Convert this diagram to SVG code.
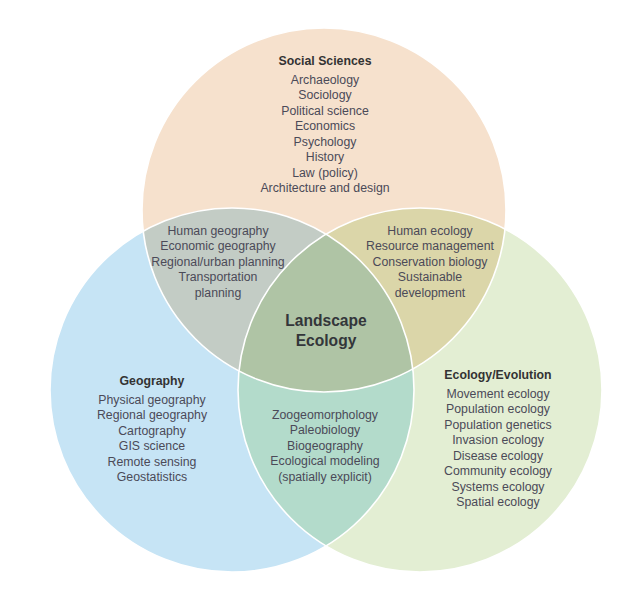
<svg xmlns="http://www.w3.org/2000/svg" width="643" height="589" viewBox="0 0 643 589">
<style>
text{font-family:"Liberation Sans",Arial,Helvetica,sans-serif;text-anchor:middle;}
.b{font-size:12.3px;fill:#4b4a58;}
.h{font-size:12.3px;font-weight:bold;fill:#333;}
.c{font-size:15.6px;font-weight:bold;fill:#33363a;}
.edge{fill:none;stroke:#fff;stroke-width:1.6;}
</style>
<rect width="643" height="589" fill="#fff"/>
<g id="social-sciences">
<circle cx="324" cy="210" r="182" fill="#F6E1CD"/>
</g>
<g id="geography">
<circle cx="232" cy="390" r="182" fill="#C6E4F5"/>
</g>
<g id="ecology-evolution">
<circle cx="420" cy="390" r="182" fill="#E3EED3"/>
</g>
<g id="social-geography">
<path d="M143.2,231.1 A182,182 0 0 1 326,234.2 A182,182 0 0 0 239,370.9 A182,182 0 0 1 143.2,231.1 Z" fill="#C3CCC5"/>
</g>
<g id="social-ecology">
<path d="M326,234.2 A182,182 0 0 1 505,229.1 A182,182 0 0 1 412.8,368.9 A182,182 0 0 0 326,234.2 Z" fill="#DBD6A9"/>
</g>
<g id="geography-ecology">
<path d="M239,370.9 A182,182 0 0 0 412.8,368.9 A182,182 0 0 1 326,545.9 A182,182 0 0 1 239,370.9 Z" fill="#B3DBCB"/>
</g>
<g id="landscape-ecology">
<path d="M326,234.2 A182,182 0 0 1 412.8,368.9 A182,182 0 0 1 239,370.9 A182,182 0 0 1 326,234.2 Z" fill="#AFC4A5"/>
</g>
<g id="connectors">
<circle class="edge" cx="324" cy="210" r="182"/>
<circle class="edge" cx="232" cy="390" r="182"/>
<circle class="edge" cx="420" cy="390" r="182"/>
</g>
<g id="labels-social">
<text class="h" x="325" y="64.5">Social Sciences</text>
<text class="b" x="325" y="83.5">Archaeology</text>
<text class="b" x="325" y="99">Sociology</text>
<text class="b" x="325" y="114.5">Political science</text>
<text class="b" x="325" y="130">Economics</text>
<text class="b" x="325" y="145.5">Psychology</text>
<text class="b" x="325" y="161">History</text>
<text class="b" x="325" y="176.5">Law (policy)</text>
<text class="b" x="325" y="192">Architecture and design</text>
</g>
<g id="labels-social-geography">
<text class="b" x="218" y="234.5">Human geography</text>
<text class="b" x="218" y="250">Economic geography</text>
<text class="b" x="218" y="265.5">Regional/urban planning</text>
<text class="b" x="218" y="281">Transportation</text>
<text class="b" x="218" y="296.5">planning</text>
</g>
<g id="labels-social-ecology">
<text class="b" x="430" y="234.5">Human ecology</text>
<text class="b" x="430" y="250">Resource management</text>
<text class="b" x="430" y="265.5">Conservation biology</text>
<text class="b" x="430" y="281">Sustainable</text>
<text class="b" x="430" y="296.5">development</text>
</g>
<g id="labels-landscape">
<text class="c" x="326" y="326">Landscape</text>
<text class="c" x="326" y="346">Ecology</text>
</g>
<g id="labels-geography">
<text class="h" x="152" y="384.5">Geography</text>
<text class="b" x="152" y="403.5">Physical geography</text>
<text class="b" x="152" y="419">Regional geography</text>
<text class="b" x="152" y="434.5">Cartography</text>
<text class="b" x="152" y="450">GIS science</text>
<text class="b" x="152" y="465.5">Remote sensing</text>
<text class="b" x="152" y="481">Geostatistics</text>
</g>
<g id="labels-geography-ecology">
<text class="b" x="325" y="418.5">Zoogeomorphology</text>
<text class="b" x="325" y="434">Paleobiology</text>
<text class="b" x="325" y="449.5">Biogeography</text>
<text class="b" x="325" y="465">Ecological modeling</text>
<text class="b" x="325" y="480.5">(spatially explicit)</text>
</g>
<g id="labels-ecology">
<text class="h" x="498" y="378.5">Ecology/Evolution</text>
<text class="b" x="498" y="397.5">Movement ecology</text>
<text class="b" x="498" y="413">Population ecology</text>
<text class="b" x="498" y="428.5">Population genetics</text>
<text class="b" x="498" y="444">Invasion ecology</text>
<text class="b" x="498" y="459.5">Disease ecology</text>
<text class="b" x="498" y="475">Community ecology</text>
<text class="b" x="498" y="490.5">Systems ecology</text>
<text class="b" x="498" y="506">Spatial ecology</text>
</g>
</svg>
